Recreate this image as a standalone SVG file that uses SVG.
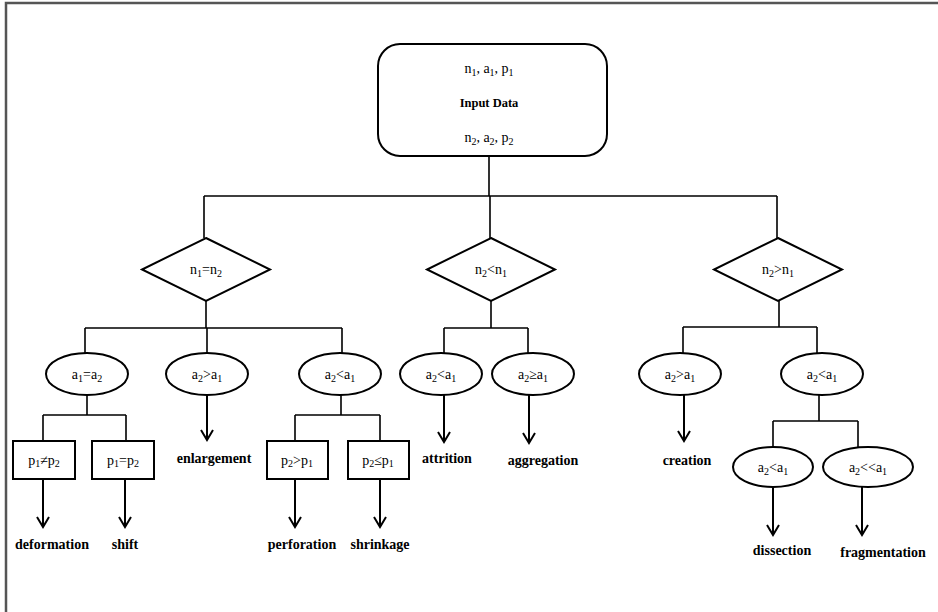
<svg xmlns="http://www.w3.org/2000/svg" width="938" height="612" viewBox="0 0 938 612" font-family="'Liberation Serif', 'Times New Roman', 'DejaVu Serif', serif">
<defs>
<marker id="arr" viewBox="0 0 12 14" refX="11" refY="7" markerWidth="12" markerHeight="14" markerUnits="userSpaceOnUse" orient="auto" overflow="visible">
<path d="M1,1 L11,7 L1,13" fill="none" stroke="#000" stroke-width="2"/>
</marker>
</defs>
<style>
.shape{fill:#fff;stroke:#000;stroke-width:2}
.ln{fill:none;stroke:#000;stroke-width:1.6}
.ar{fill:none;stroke:#000;stroke-width:2;marker-end:url(#arr)}
text{font-family:'Liberation Serif','Times New Roman','DejaVu Serif',serif;fill:#000;text-anchor:middle}
.t{font-size:14px}
.b{font-size:14px;font-weight:bold}
.s{font-size:10px}
</style>
<rect width="938" height="612" fill="#fff"/>
<path d="M6,612 V3 H938" fill="none" stroke="#555" stroke-width="2.5"/>

<g id="connectors">
<path class="ln" d="M489,156 V196 M204,196 H777 M204,196 V238 M490,196 V238 M777,196 V238"/>
<path class="ln" d="M206,301 V328 M85,328 H342 M85,328 V353 M207,328 V353 M342,328 V353"/>
<path class="ln" d="M87,394 V415 M43,415 H126 M43,415 V441 M126,415 V441"/>
<path class="ln" d="M341,394 V415 M295,415 H380 M295,415 V441 M380,415 V441"/>
<path class="ln" d="M491,301 V328 M444,328 H528 M444,328 V353 M528,328 V353"/>
<path class="ln" d="M779,301 V327 M683,327 H817 M683,327 V353 M817,327 V353"/>
<path class="ln" d="M819,394 V421 M773,421 H858 M773,421 V447 M858,421 V447"/>
<path class="ar" d="M43,479 V527"/>
<path class="ar" d="M125,479 V527"/>
<path class="ar" d="M295,479 V527"/>
<path class="ar" d="M380,479 V527"/>
<path class="ar" d="M207,395 V440"/>
<path class="ar" d="M444,395 V442"/>
<path class="ar" d="M529,395 V443"/>
<path class="ar" d="M684,395 V441"/>
<path class="ar" d="M773,487 V535"/>
<path class="ar" d="M862,487 V535"/>
</g>

<g id="input">
<rect class="shape" x="378" y="44" width="229" height="112" rx="22"/>
<text class="t" x="489" y="73">n<tspan class="s" dy="3">1</tspan><tspan dy="-3">, a</tspan><tspan class="s" dy="3">1</tspan><tspan dy="-3">, p</tspan><tspan class="s" dy="3">1</tspan></text>
<text class="b" x="489" y="107" style="font-size:12.5px">Input Data</text>
<text class="t" x="489" y="142">n<tspan class="s" dy="3">2</tspan><tspan dy="-3">, a</tspan><tspan class="s" dy="3">2</tspan><tspan dy="-3">, p</tspan><tspan class="s" dy="3">2</tspan></text>
</g>

<g id="d1">
<polygon class="shape" points="206,238 270,269.5 206,301 142,269.5"/>
<text class="t" x="206" y="274">n<tspan class="s" dy="3">1</tspan><tspan dy="-3">=n</tspan><tspan class="s" dy="3">2</tspan></text>
</g>
<g id="d2">
<polygon class="shape" points="491,238 555,269.5 491,301 427,269.5"/>
<text class="t" x="491" y="274">n<tspan class="s" dy="3">2</tspan><tspan dy="-3">&lt;n</tspan><tspan class="s" dy="3">1</tspan></text>
</g>
<g id="d3">
<polygon class="shape" points="778,238 842,269.5 778,301 714,269.5"/>
<text class="t" x="778" y="274">n<tspan class="s" dy="3">2</tspan><tspan dy="-3">&gt;n</tspan><tspan class="s" dy="3">1</tspan></text>
</g>

<g id="e1">
<ellipse class="shape" cx="87" cy="374" rx="41" ry="21"/>
<text class="t" x="87" y="379">a<tspan class="s" dy="3">1</tspan><tspan dy="-3">=a</tspan><tspan class="s" dy="3">2</tspan></text>
</g>
<g id="e2">
<ellipse class="shape" cx="207" cy="374" rx="41" ry="21"/>
<text class="t" x="207" y="379">a<tspan class="s" dy="3">2</tspan><tspan dy="-3">&gt;a</tspan><tspan class="s" dy="3">1</tspan></text>
</g>
<g id="e3">
<ellipse class="shape" cx="340" cy="374" rx="41" ry="21"/>
<text class="t" x="340" y="379">a<tspan class="s" dy="3">2</tspan><tspan dy="-3">&lt;a</tspan><tspan class="s" dy="3">1</tspan></text>
</g>
<g id="e4">
<ellipse class="shape" cx="441" cy="374" rx="41" ry="21"/>
<text class="t" x="441" y="379">a<tspan class="s" dy="3">2</tspan><tspan dy="-3">&lt;a</tspan><tspan class="s" dy="3">1</tspan></text>
</g>
<g id="e5">
<ellipse class="shape" cx="533" cy="374" rx="41" ry="21"/>
<text class="t" x="533" y="379">a<tspan class="s" dy="3">2</tspan><tspan dy="-3">≥a</tspan><tspan class="s" dy="3">1</tspan></text>
</g>
<g id="e6">
<ellipse class="shape" cx="680" cy="374" rx="41" ry="21"/>
<text class="t" x="680" y="379">a<tspan class="s" dy="3">2</tspan><tspan dy="-3">&gt;a</tspan><tspan class="s" dy="3">1</tspan></text>
</g>
<g id="e7">
<ellipse class="shape" cx="822" cy="374" rx="41" ry="21"/>
<text class="t" x="822" y="379">a<tspan class="s" dy="3">2</tspan><tspan dy="-3">&lt;a</tspan><tspan class="s" dy="3">1</tspan></text>
</g>
<g id="e8">
<ellipse class="shape" cx="773" cy="467" rx="40" ry="20"/>
<text class="t" x="773" y="472">a<tspan class="s" dy="3">2</tspan><tspan dy="-3">&lt;a</tspan><tspan class="s" dy="3">1</tspan></text>
</g>
<g id="e9">
<ellipse class="shape" cx="868" cy="467" rx="45" ry="20"/>
<text class="t" x="868" y="472">a<tspan class="s" dy="3">2</tspan><tspan dy="-3">&lt;&lt;a</tspan><tspan class="s" dy="3">1</tspan></text>
</g>

<g id="r1">
<rect class="shape" x="13" y="441" width="62" height="38"/>
<text class="t" x="44" y="465">p<tspan class="s" dy="2">1</tspan><tspan dy="-2">≠p</tspan><tspan class="s" dy="2">2</tspan></text>
</g>
<g id="r2">
<rect class="shape" x="92" y="441" width="62" height="38"/>
<text class="t" x="123" y="465">p<tspan class="s" dy="2">1</tspan><tspan dy="-2">=p</tspan><tspan class="s" dy="2">2</tspan></text>
</g>
<g id="r3">
<rect class="shape" x="267" y="441" width="61" height="38"/>
<text class="t" x="297" y="465">p<tspan class="s" dy="2">2</tspan><tspan dy="-2">&gt;p</tspan><tspan class="s" dy="2">1</tspan></text>
</g>
<g id="r4">
<rect class="shape" x="348" y="441" width="61" height="38"/>
<text class="t" x="378" y="465">p<tspan class="s" dy="2">2</tspan><tspan dy="-2">≤p</tspan><tspan class="s" dy="2">1</tspan></text>
</g>

<g id="labels">
<text class="b" x="52" y="549">deformation</text>
<text class="b" x="125" y="549">shift</text>
<text class="b" x="214" y="463">enlargement</text>
<text class="b" x="302" y="549">perforation</text>
<text class="b" x="380" y="549">shrinkage</text>
<text class="b" x="447" y="463">attrition</text>
<text class="b" x="543" y="465">aggregation</text>
<text class="b" x="687" y="465">creation</text>
<text class="b" x="782" y="555">dissection</text>
<text class="b" x="883" y="557">fragmentation</text>
</g>
</svg>
